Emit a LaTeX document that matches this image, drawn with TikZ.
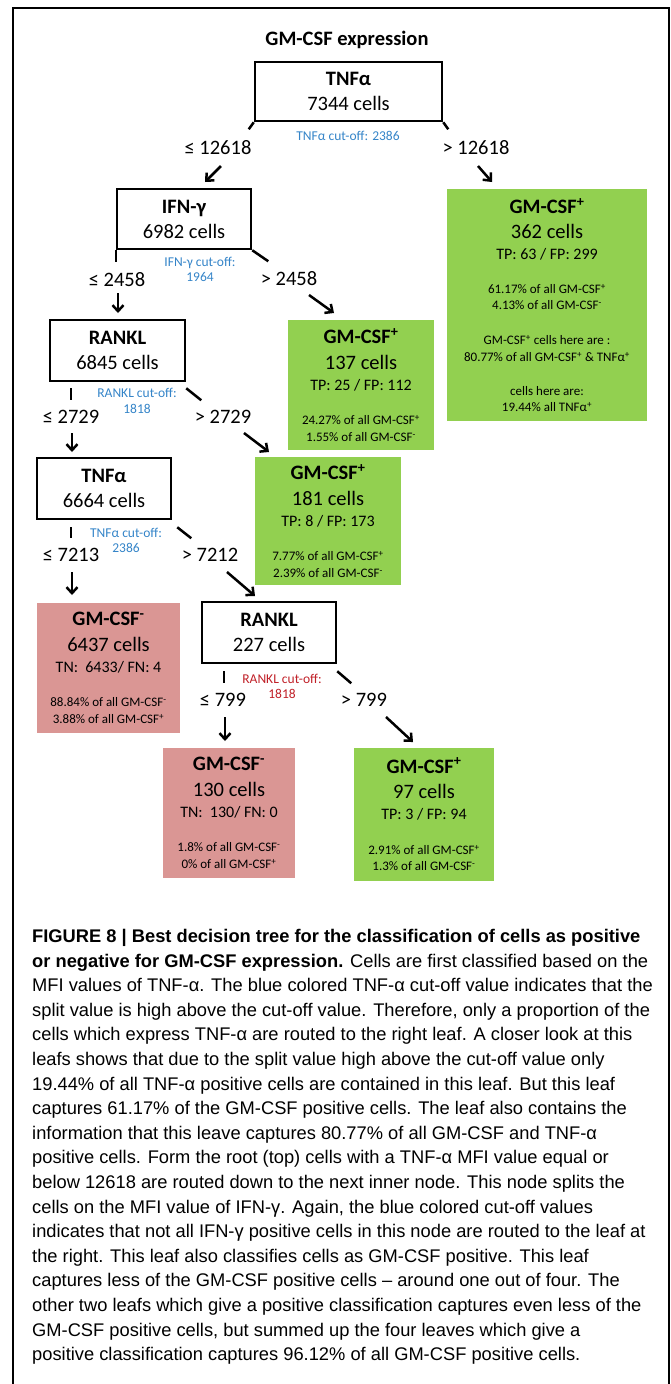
\documentclass[tikz,border=0pt]{standalone}
\usepackage{fontspec}
\setmainfont{Carlito}
\newfontfamily\capfont{Liberation Sans}
\usetikzlibrary{arrows.meta}

\definecolor{leafgreen}{RGB}{146,208,80}
\definecolor{leafred}{RGB}{218,150,148}
\definecolor{cutblue}{RGB}{52,132,200}
\definecolor{cutred}{RGB}{192,32,40}

\newcommand{\leafbody}[5]{%
  {\bfseries\fontsize{20.5}{16}\selectfont GM-CSF\textsuperscript{#1}}\\[9.5pt]
  {\fontsize{20.5}{16}\selectfont #2}\\[5pt]
  {\fontsize{16}{16}\selectfont #3}\\[18.5pt]
  #4\\[0.5pt]
  #5}

\begin{document}
\begin{tikzpicture}[x=1pt, y=-1pt,
    split/.style={draw, line width=2.5pt, inner sep=0pt, align=center,
      font=\fontsize{20.5}{25}\selectfont},
    posleaf/.style={fill=leafgreen, inner sep=0pt, align=center,
      font=\fontsize{13}{16}\selectfont},
    negleaf/.style={posleaf, fill=leafred},
    cond/.style={inner sep=0pt, font=\fontsize{20.5}{24}\selectfont},
    cutoff/.style={inner sep=0pt, align=center, text=cutblue,
      font=\fontsize{13.5}{15.5}\selectfont},
    tick/.style={line width=2.5pt},
    arr/.style={line width=2.5pt, -{Straight Barb[length=6pt,width=11pt]}}]

  \useasboundingbox (0,0) rectangle (671,1384);
  \draw[line width=1.3pt] (13,1384) -- (13,8) -- (669,8) -- (669,1384);

  \node[font=\bfseries\fontsize{20.5}{24}\selectfont] (title) at (347,40) {GM-CSF expression};

  % inner nodes of the tree
  \node[split, minimum width=187pt, minimum height=59pt] (root) at (348.5,91.5) {\textbf{TNFα}\\7344 cells};
  \node[split, minimum width=134pt, minimum height=60pt] (ifn) at (184,219) {\textbf{IFN-γ}\\6982 cells};
  \node[split, minimum width=135pt, minimum height=61pt] (rankl) at (117.5,350.5) {\textbf{RANKL}\\6845 cells};
  \node[split, minimum width=134pt, minimum height=61pt] (tnf) at (104,488.5) {\textbf{TNFα}\\6664 cells};
  \node[split, minimum width=134pt, minimum height=61pt] (ranklb) at (269,632.5) {\textbf{RANKL}\\227 cells};

  % leaves
  \node[posleaf, minimum width=200pt, minimum height=232pt] (leafa) at (547,305) {%
    {\bfseries\fontsize{20.5}{16}\selectfont GM-CSF\textsuperscript{+}}\\[9pt]
    {\fontsize{20.5}{16}\selectfont 362 cells}\\[4.5pt]
    {\fontsize{16}{16}\selectfont TP: 63 / FP: 299}\\[18pt]
    61.17\% of all GM-CSF\textsuperscript{+}\\
    4.13\% of all GM-CSF\textsuperscript{-}\\[19pt]
    GM-CSF\textsuperscript{+} cells here are :\\[1pt]
    80.77\% of all GM-CSF\textsuperscript{+} \& TNFα\textsuperscript{+}\\[18pt]
    cells here are:\\
    19.44\% all TNFα\textsuperscript{+}};
  \node[posleaf, minimum width=146pt, minimum height=130pt] (leafb) at (361,385)
    {\leafbody{+}{137 cells}{TP: 25 / FP: 112}{24.27\% of all GM-CSF\textsuperscript{+}}{1.55\% of all GM-CSF\textsuperscript{-}}};
  \node[posleaf, minimum width=146pt, minimum height=128pt] (leafc) at (328,521)
    {\leafbody{+}{181 cells}{TP: 8 / FP: 173}{7.77\% of all GM-CSF\textsuperscript{+}}{2.39\% of all GM-CSF\textsuperscript{-}}};
  \node[negleaf, minimum width=143pt, minimum height=130pt] (leafd) at (108.5,668)
    {\leafbody{-}{6437 cells}{TN:\ \ 6433/ FN: 4}{88.84\% of all GM-CSF\textsuperscript{-}}{3.88\% of all GM-CSF\textsuperscript{+}}};
  \node[negleaf, minimum width=132pt, minimum height=130pt] (leafe) at (229,813)
    {\leafbody{-}{130 cells}{TN:\ \ 130/ FN: 0}{1.8\% of all GM-CSF\textsuperscript{-}}{0\% of all GM-CSF\textsuperscript{+}}};
  \node[posleaf, minimum width=140pt, minimum height=133pt] (leaff) at (424,814.5)
    {\leafbody{+}{97 cells}{TP: 3 / FP: 94}{2.91\% of all GM-CSF\textsuperscript{+}}{1.3\% of all GM-CSF\textsuperscript{-}}};

  % split values
  \node[cond] (lo1) at (218,148) {≤ 12618};
  \node[cond] (hi1) at (476,148) {> 12618};
  \node[cond] (lo2) at (117,280) {≤ 2458};
  \node[cond] (hi2) at (289,279) {> 2458};
  \node[cond] (lo3) at (71,417) {≤ 2729};
  \node[cond] (hi3) at (223,417) {> 2729};
  \node[cond] (lo4) at (71,555) {≤ 7213};
  \node[cond] (hi4) at (210,555) {> 7212};
  \node[cond] (lo5) at (223,700) {≤ 799};
  \node[cond] (hi5) at (364,700) {> 799};

  % cut-off values
  \node[cutoff] (cut1) at (348,136) {TNFα cut-off: 2386};
  \node[cutoff] (cut2) at (200,269.5) {IFN-γ cut-off:\\1964};
  \node[cutoff] (cut3) at (137,401) {RANKL cut-off:\\1818};
  \node[cutoff] (cut4) at (126,540.5) {TNFα cut-off:\\2386};
  \node[cutoff, text=cutred] (cut5) at (282,686.5) {RANKL cut-off:\\1818};

  \draw[tick] (root.south west) -- ++(-5,7);
  \draw[tick] (root.south east) -- ++(5,7);
  \draw[tick] (ifn.south west) -- ++(0,12);
  \draw[tick] (ifn.south east) -- ++(16,11);
  \draw[tick] (rankl.south west) ++(22,6) -- ++(0,12);
  \draw[tick] (rankl.south east) ++(0,6) -- ++(15,12);
  \draw[tick] (tnf.south west) ++(35,7) -- ++(0,11);
  \draw[tick] (tnf.south east) ++(5,7) -- ++(14,11);
  \draw[tick] (ranklb.south west) ++(23,7) -- ++(0,12);
  \draw[tick] (ranklb.south east) ++(0,7) -- ++(14,12);

  \foreach \lbl/\dx/\dy/\ex/\ey in {lo1/3/18/-16/16, hi1/2/18/14/16,
      lo2/1/13/0/20, hi2/20/16/25/18, lo3/1/16/0/19, hi3/21/16/25/19,
      lo4/1/17/0/23, hi4/17/17/28/24, lo5/2/17/0/24, hi5/22/17/27/25}{
    \draw[arr] (\lbl) ++(\dx,\dy) -- ++(\ex,\ey);
  }

  \node[anchor=north west, inner sep=0pt, align=left,
    font=\capfont\fontsize{18.3}{24.6}\selectfont] (caption) at (32,929) {%
    \textbf{FIGURE 8 | Best decision tree for the classification of cells as positive}\\
    \textbf{or negative for GM-CSF expression.} Cells are first classified based on the\\
    MFI values of TNF-α. The blue colored TNF-α cut-off value indicates that the\\
    split value is high above the cut-off value. Therefore, only a proportion of the\\
    cells which express TNF-α are routed to the right leaf. A closer look at this\\
    leafs shows that due to the split value high above the cut-off value only\\
    19.44\% of all TNF-α positive cells are contained in this leaf. But this leaf\\
    captures 61.17\% of the GM-CSF positive cells. The leaf also contains the\\
    information that this leave captures 80.77\% of all GM-CSF and TNF-α\\
    positive cells. Form the root (top) cells with a TNF-α MFI value equal or\\
    below 12618 are routed down to the next inner node. This node splits the\\
    cells on the MFI value of IFN-γ. Again, the blue colored cut-off values\\
    indicates that not all IFN-γ positive cells in this node are routed to the leaf at\\
    the right. This leaf also classifies cells as GM-CSF positive. This leaf\\
    captures less of the GM-CSF positive cells – around one out of four. The\\
    other two leafs which give a positive classification captures even less of the\\
    GM-CSF positive cells, but summed up the four leaves which give a\\
    positive classification captures 96.12\% of all GM-CSF positive cells.};
\end{tikzpicture}
\end{document}
